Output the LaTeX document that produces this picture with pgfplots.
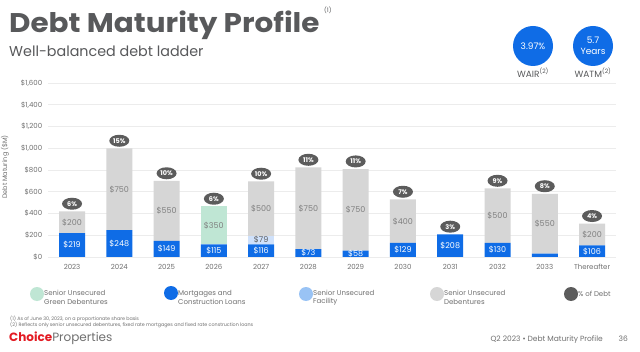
\documentclass[border=0pt]{standalone}
\usepackage{fontspec}
\setmainfont{Poppins}
\usepackage{graphicx}
\usepackage{pgfplots}
\usepackage{pgfplotstable}
\pgfplotsset{compat=1.18}
\usetikzlibrary{shapes.geometric}
\definecolor{cblue}{HTML}{0F6CE6}
\definecolor{cgray}{HTML}{D6D6D6}
\definecolor{cgreen}{HTML}{BFE6D4}
\definecolor{cfac}{HTML}{CFE1FB}
\definecolor{cfacleg}{HTML}{99C3F5}
\definecolor{cdark}{HTML}{5C5C5C}
\definecolor{ctitle}{HTML}{58595B}
\definecolor{ctick}{HTML}{707070}
\definecolor{clab}{HTML}{808080}
\definecolor{cred}{HTML}{E31B23}
\definecolor{cgrid}{HTML}{ECECEC}

\pgfplotstableread{
x m f g d
0 219 0 0 200
1 248 0 0 750
2 149 0 0 550
3 115 0 350 0
4 116 79 0 500
5 73 0 0 750
6 58 0 0 750
7 129 0 0 400
8 208 0 0 0
9 130 0 0 500
10 30 0 0 550
11 106 0 0 200
}\debt

% total of each year and its share of debt (%)
\pgfplotstableread{
x t p
0 419 6
1 998 15
2 699 10
3 465 6
4 695 10
5 823 11
6 808 11
7 529 7
8 208 3
9 630 9
10 580 8
11 306 4
}\pct

\pgfplotstableread{
x y v
0 109.5 219
1 124 248
2 74.5 149
3 57.5 115
4 58 116
5 36.5 73
6 29 58
7 64.5 129
8 104 208
9 65 130
11 53 106
}\mlab

\pgfplotstableread{
x y v
0 319 200
1 623 750
2 424 550
4 445 500
5 448 750
6 433 750
7 329 400
9 380 500
10 305 550
11 206 200
}\dlab

\pgfplotstableread{
x y v
3 290 350
}\glab

\pgfplotstableread{
x y v
4 155.5 79
}\flab

\begin{document}
\begin{tikzpicture}[x=1pt,y=1pt]
\useasboundingbox[fill=white] (0,0) rectangle (640,351);

% titles
\node[anchor=base west, inner sep=0, font=\fontsize{27}{27}\selectfont\bfseries, text=ctitle] at (9,318) {\scalebox{1.09}[1]{Debt Maturity Profile}};
\node[anchor=base west, inner sep=0, font=\fontsize{6}{6}\selectfont, text=ctitle] at (324,338) {(1)};
\node[anchor=base west, inner sep=0, font=\fontsize{14.3}{14.3}\selectfont, text=ctitle] at (9,294) {Well-balanced debt ladder};

% KPI circles
\fill[cblue] (533,305) circle (20);
\fill[cblue] (593,305) circle (20);
\node[text=white, font=\fontsize{9}{9}\selectfont] at (533,305) {3.97\%};
\node[text=white, font=\fontsize{9}{10.5}\selectfont, align=center] at (593,305) {5.7\\Years};
\node[text=ctitle, font=\fontsize{9}{9}\selectfont] at (533,278) {WAIR\textsuperscript{(2)}};
\node[text=ctitle, font=\fontsize{9}{9}\selectfont] at (593,278) {WATM\textsuperscript{(2)}};

% y label
\node[rotate=90, text=ctick, font=\fontsize{6.5}{6.5}\selectfont] at (5,184) {Debt Maturing (\$M)};

\begin{axis}[
  at={(48.4pt,94pt)}, anchor=south west, scale only axis,
  width=567.3pt, height=174pt,
  xmin=-0.5, xmax=11.5, ymin=0, ymax=1600,
  ybar stacked, bar width=26pt,
  axis line style={draw=none},
  major tick length=0pt,
  ymajorgrids, grid style={cgrid, line width=0.7pt},
  xtick={0,...,11},
  xticklabels={2023,2024,2025,2026,2027,2028,2029,2030,2031,2032,2033,Thereafter},
  ytick={0,200,...,1600},
  yticklabels={\$0,\$200,\$400,\$600,\$800,{\$1,000},{\$1,200},{\$1,400},{\$1,600}},
  xticklabel style={anchor=center, yshift=-10pt, font=\fontsize{7}{7}\selectfont, text=ctick},
  yticklabel style={anchor=east, inner sep=0pt, xshift=-6pt, font=\fontsize{7}{7}\selectfont, text=ctick},
  clip=false,
]
\addplot[fill=cblue, draw=none] table[x=x, y=m] {\debt};
\addplot[fill=cfac, draw=none] table[x=x, y=f] {\debt};
\addplot[fill=cgreen, draw=none] table[x=x, y=g] {\debt};
\addplot[fill=cgray, draw=none] table[x=x, y=d] {\debt};
\end{axis}

\begin{axis}[
  at={(48.4pt,94pt)}, anchor=south west, scale only axis,
  width=567.3pt, height=174pt,
  xmin=-0.5, xmax=11.5, ymin=0, ymax=1600,
  hide axis, clip=false,
  /pgf/number format/assume math mode=true,
  nodes near coords={\$\pgfmathprintnumber{\pgfplotspointmeta}},
  point meta=explicit,
]
\addplot[only marks, mark=none, nodes near coords style={anchor=center, text=white, font=\fontsize{8}{8}\selectfont}] table[x=x, y=y, meta=v] {\mlab};
\addplot[only marks, mark=none, nodes near coords style={anchor=center, text=clab, font=\fontsize{8}{8}\selectfont}] table[x=x, y=y, meta=v] {\dlab};
\addplot[only marks, mark=none, nodes near coords style={anchor=center, text=clab, font=\fontsize{8}{8}\selectfont}] table[x=x, y=y, meta=v] {\glab};
\addplot[only marks, mark=none, nodes near coords style={anchor=center, text=cdark, font=\fontsize{8}{8}\selectfont}] table[x=x, y=y, meta=v] {\flab};
\addplot[only marks, mark=none,
  nodes near coords={\pgfmathprintnumber{\pgfplotspointmeta}\%},
  nodes near coords style={ellipse, fill=cdark, text=white,
     font=\fontsize{6.5}{6.5}\selectfont\bfseries, inner sep=0pt,
     minimum width=20pt, minimum height=12pt, anchor=south, yshift=1.5pt}
  ] table[x=x, y=t, meta=p] {\pct};
\end{axis}

% legend
\begin{scope}[font=\fontsize{7}{8.5}\selectfont, text=ctick]
\fill[cgreen] (37,57) circle (7);
\node[anchor=west, align=left, inner sep=0] at (44,53.5) {Senior Unsecured\\Green Debentures};
\fill[cblue] (171,58) circle (7);
\node[anchor=west, align=left, inner sep=0] at (178,53.5) {Mortgages and\\Construction Loans};
\fill[cfacleg] (306,57) circle (7);
\node[anchor=west, align=left, inner sep=0] at (313,53.5) {Senior Unsecured\\Facility};
\fill[cgray] (437,57) circle (7);
\node[anchor=west, align=left, inner sep=0] at (444,53.5) {Senior Unsecured\\Debentures};
\fill[cdark] (571,57) circle (7);
\node[anchor=west, inner sep=0] at (578,57) {\% of Debt};
\end{scope}

% footnotes
\node[anchor=base west, inner sep=0, font=\fontsize{4.8}{4.8}\selectfont, text=ctick] at (10,31) {(1) As of June 30, 2023, on a proportionate share basis};
\node[anchor=base west, inner sep=0, font=\fontsize{4.8}{4.8}\selectfont, text=ctick] at (10,24.5) {(2) Reflects only senior unsecured debentures, fixed rate mortgages and fixed rate construction loans};
\node[anchor=base west, inner sep=0, font=\fontsize{12}{12}\selectfont] at (9,10) {\textcolor{cred}{\bfseries Choice}\textcolor{ctick}{Properties}};
\node[anchor=base east, inner sep=0, font=\fontsize{7.5}{7.5}\selectfont, text=ctick] at (603,10) {Q2 2023 \textbullet{} Debt Maturity Profile};
\node[anchor=base east, inner sep=0, font=\fontsize{7.5}{7.5}\selectfont, text=ctick] at (628,10) {36};
\end{tikzpicture}
\end{document}
